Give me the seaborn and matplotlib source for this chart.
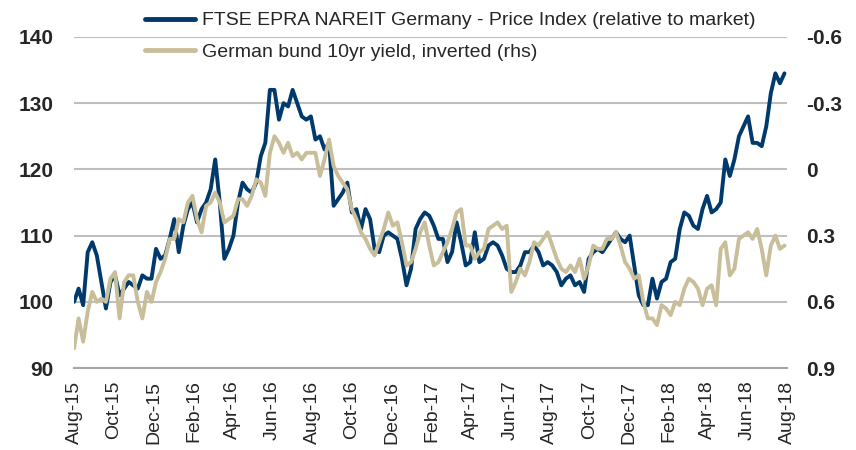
import pandas as pd
import matplotlib
matplotlib.use("Agg")
import matplotlib.pyplot as plt
import matplotlib.ticker as mticker
import seaborn as sns

# weekly observations, Aug-15 .. Aug-18
weeks = pd.date_range("2015-08-01", periods=157, freq="7D")

ftse_rel = [
    100, 102, 99.5, 107.5, 109, 107, 103, 99, 103, 104,
    101, 102, 103, 102.5, 102, 104, 103.5, 103.5, 108, 106.5,
    107, 109.5, 112.5, 107.5, 111.5, 114, 115, 112, 114, 115,
    117, 121.5, 115, 106.5, 108, 110, 115, 118, 117, 116.5,
    118, 122, 124, 132, 132, 127.5, 130, 129.5, 132, 130,
    128, 127.5, 128, 124.5, 125, 123, 124, 114.5, 115.5, 116.5,
    118, 113.5, 114, 111, 114, 112.5, 108, 107.5, 110, 110.5,
    110, 109.5, 106.5, 102.5, 105, 111, 112.5, 113.5, 113,
    111.5, 109.5, 109.5, 106, 107.5, 112, 109, 105.5, 106, 110.5,
    106, 106.5, 108.5, 109, 108.5, 107, 105, 104.5, 104.5, 105.5,
    107.5, 107.5, 108.5, 107.5, 105.5, 106, 105.5, 104.5, 102.5, 103.5,
    104, 102.5, 103, 101.5, 106.5, 107.5, 108, 107.5, 108.5, 109.5,
    110.5, 109.5, 109, 110, 105.5, 101, 99.5, 99.5, 103.5, 100.5,
    103, 103.5, 106, 106.5, 111, 113.5, 113, 111.5, 111, 114,
    116, 113.5, 114, 115, 121.5, 119, 121.5, 125, 126.5, 128,
    124, 124, 123.5, 126.5, 131.5, 134.5, 133, 134.5,
]

bund_yield = [
    0.81, 0.675, 0.78, 0.645, 0.555, 0.60, 0.585, 0.60, 0.495, 0.465,
    0.675, 0.51, 0.48, 0.48, 0.60, 0.675, 0.555, 0.60, 0.51, 0.465,
    0.405, 0.315, 0.315, 0.225, 0.24, 0.15, 0.12, 0.225, 0.285, 0.165,
    0.15, 0.105, 0.15, 0.24, 0.225, 0.21, 0.135, 0.135, 0.165, 0.12,
    0.045, 0.06, 0.12, -0.075, -0.15, -0.12, -0.075, -0.12, -0.06, -0.075,
    -0.045, -0.075, -0.075, -0.075, 0.03, -0.045, -0.135, -0.015, 0.03, 0.06,
    0.09, 0.18, 0.225, 0.285, 0.315, 0.36, 0.39, 0.33, 0.27, 0.195,
    0.255, 0.24, 0.33, 0.435, 0.42, 0.36, 0.285, 0.24, 0.345,
    0.435, 0.42, 0.375, 0.33, 0.27, 0.195, 0.18, 0.345, 0.345, 0.405,
    0.375, 0.36, 0.27, 0.255, 0.24, 0.27, 0.255, 0.555, 0.51, 0.45,
    0.48, 0.42, 0.33, 0.345, 0.315, 0.285, 0.345, 0.405, 0.45, 0.465,
    0.435, 0.465, 0.405, 0.495, 0.435, 0.345, 0.36, 0.36, 0.315, 0.315,
    0.285, 0.345, 0.42, 0.45, 0.495, 0.48, 0.60, 0.675, 0.675, 0.705,
    0.615, 0.63, 0.66, 0.60, 0.615, 0.54, 0.495, 0.51, 0.54, 0.615,
    0.54, 0.525, 0.615, 0.36, 0.33, 0.48, 0.45, 0.315, 0.30, 0.285,
    0.315, 0.27, 0.36, 0.48, 0.345, 0.30, 0.36, 0.345,
]

left_ticks = [90, 100, 110, 120, 130, 140]
right_ticks = [-0.6, -0.3, 0, 0.3, 0.6, 0.9]
right_labels = ["-0.6", "-0.3", "0", "0.3", "0.6", "0.9"]

ftse_label = "FTSE EPRA NAREIT Germany - Price Index (relative to market)"
bund_label = "German bund 10yr yield, inverted (rhs)"

navy = "#003A6C"
tan = "#C8BE9A"

df = pd.DataFrame({"date": weeks, "ftse": ftse_rel, "bund": bund_yield})

sns.set_style("white")
plt.rcParams["font.family"] = ["Liberation Sans", "DejaVu Sans"]

fig = plt.figure(figsize=(8.56, 4.5), dpi=100)
ax = fig.add_axes([0.0865, 0.182, 0.833, 0.736])
ax2 = ax.twinx()

sns.lineplot(data=df, x="date", y="ftse", ax=ax, color=navy, linewidth=2.8, label=ftse_label, legend=False)
sns.lineplot(data=df, x="date", y="bund", ax=ax2, color=tan, linewidth=2.8, label=bund_label, legend=False)

ax.set_ylim(90, 140)
ax2.set_ylim(0.9, -0.6)
ax.set_xlim(pd.Timestamp("2015-08-01"), pd.Timestamp("2018-08-01"))

ax.set_yticks(left_ticks)
ax2.set_yticks(right_ticks)
ax2.yaxis.set_major_formatter(mticker.FixedFormatter(right_labels))
ax.yaxis.grid(True, color="#BFBFBF", linewidth=1.5)
ax.set_axisbelow(True)

xt = pd.date_range("2015-08-01", "2018-08-01", freq="2MS")
ax.set_xticks(xt)
ax.set_xticklabels([d.strftime("%b-%y") for d in xt], rotation=90, fontsize=14)

for a in (ax, ax2):
    for s in a.spines.values():
        s.set_visible(False)
    a.set_xlabel("")
    a.set_ylabel("")
ax.spines["bottom"].set_visible(True)
ax.spines["bottom"].set_color("#A6A6A6")
ax.spines["bottom"].set_linewidth(1.5)

ax.tick_params(axis="x", length=0, pad=9)
ax.tick_params(axis="y", length=0, pad=15, labelsize=15)
ax2.tick_params(axis="y", length=0, pad=14, labelsize=15)
for lbl in ax.get_yticklabels() + ax2.get_yticklabels():
    lbl.set_fontweight("bold")

h1, l1 = ax.get_legend_handles_labels()
h2, l2 = ax2.get_legend_handles_labels()
leg = fig.legend(h1 + h2, l1 + l2, loc="upper left", bbox_to_anchor=(0.169, 0.974),
                 frameon=False, fontsize=14, handlelength=2.6, handletextpad=0.35,
                 labelspacing=0.7, borderpad=0, borderaxespad=0)
for line in leg.get_lines():
    line.set_linewidth(3.5)

fig.savefig("out.png", dpi=100)
